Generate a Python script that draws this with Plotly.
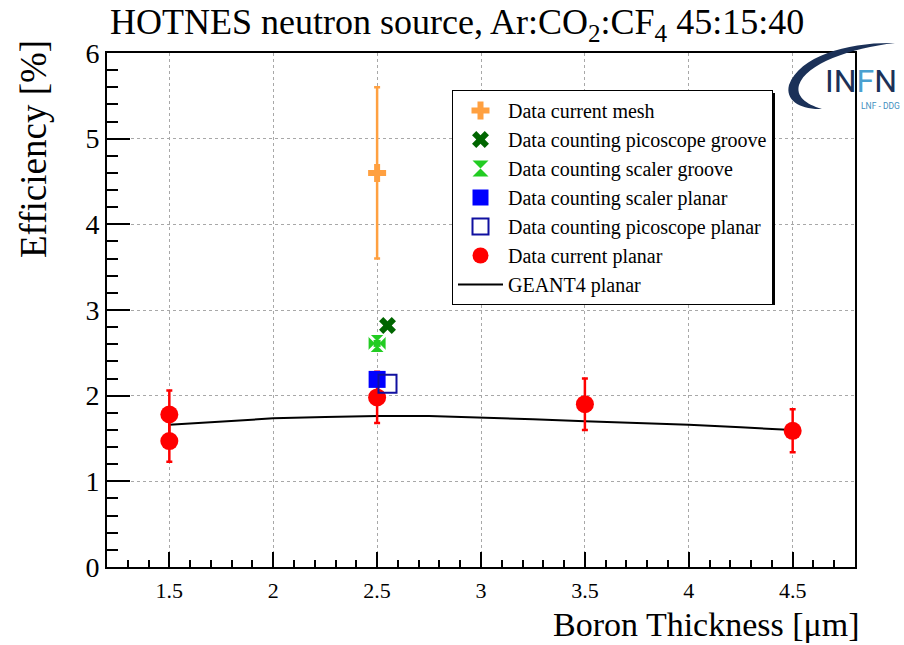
import plotly.graph_objects as go

# ---------------- data ----------------
geant4_x = [1.5, 1.75, 2.0, 2.25, 2.5, 2.75, 3.0, 3.25, 3.5, 3.75, 4.0, 4.25, 4.5]
geant4_y = [1.66, 1.70, 1.735, 1.752, 1.762, 1.762, 1.745, 1.725, 1.70, 1.68, 1.66, 1.63, 1.60]

current_planar_x = [1.5, 1.5, 2.5, 3.5, 4.5]
current_planar_y = [1.78, 1.47, 1.98, 1.90, 1.59]
current_planar_err = [0.28, 0.24, 0.30, 0.30, 0.25]

scaler_planar_x = [2.5]
scaler_planar_y = [2.19]

pico_planar_x = [2.55]
pico_planar_y = [2.14]

scaler_groove_x = [2.5]
scaler_groove_y = [2.61]

pico_groove_x = [2.55]
pico_groove_y = [2.82]

mesh_x = [2.5]
mesh_y = [4.6]
mesh_err = [1.0]

x_tick_vals = [1.5, 2, 2.5, 3, 3.5, 4, 4.5]
x_tick_text = ["1.5", "2", "2.5", "3", "3.5", "4", "4.5"]
y_tick_vals = [0, 1, 2, 3, 4, 5, 6]
y_tick_text = ["0", "1", "2", "3", "4", "5", "6"]

# ---------------- layout helpers ----------------
W, H = 904, 645
L, T, R, B = 107, 53, 855, 567
PW, PH = R - L, B - T


def px(xp):
    return (xp - L) / PW


def py(yp):
    return (B - yp) / PH


SERIF = "Liberation Serif, Times New Roman, serif"
GREEN = "#22cc22"

fig = go.Figure()

fig.add_trace(go.Scatter(
    x=geant4_x, y=geant4_y, mode="lines", name="GEANT4 planar",
    line=dict(color="black", width=2), legendrank=7))

fig.add_trace(go.Scatter(
    x=current_planar_x, y=current_planar_y, mode="markers", name="Data current planar",
    marker=dict(symbol="circle", size=18, color="#ff0000"),
    error_y=dict(type="data", array=current_planar_err, color="#ff0000", thickness=2.5, width=3),
    legendrank=6))

fig.add_trace(go.Scatter(
    x=scaler_planar_x, y=scaler_planar_y, mode="markers", name="Data counting scaler planar",
    marker=dict(symbol="square", size=17, color="#0000ff"), legendrank=4))

fig.add_trace(go.Scatter(
    x=pico_planar_x, y=pico_planar_y, mode="markers", name="Data counting picoscope planar",
    marker=dict(symbol="square-open", size=18, color="#1010a0", line=dict(width=2)),
    legendrank=5))

# scaler groove: four-petal marker built from overlaid symbols
fig.add_trace(go.Scatter(
    x=scaler_groove_x, y=scaler_groove_y, mode="markers", name="Data counting scaler groove",
    marker=dict(symbol="hourglass", size=17, color=GREEN), legendrank=3,
    legendgroup="sg"))
fig.add_trace(go.Scatter(
    x=scaler_groove_x, y=scaler_groove_y, mode="markers", showlegend=False,
    marker=dict(symbol="bowtie", size=17, color=GREEN), legendgroup="sg"))
fig.add_trace(go.Scatter(
    x=scaler_groove_x, y=scaler_groove_y, mode="markers", showlegend=False,
    marker=dict(symbol="x-thin-open", size=18, color="white", line=dict(width=3, color="white")),
    legendgroup="sg"))
fig.add_trace(go.Scatter(
    x=scaler_groove_x, y=scaler_groove_y, mode="markers", showlegend=False,
    marker=dict(symbol="square", size=7, color=GREEN), legendgroup="sg"))

fig.add_trace(go.Scatter(
    x=pico_groove_x, y=pico_groove_y, mode="markers", name="Data counting picoscope groove",
    marker=dict(symbol="x", size=15, color="#006600"), legendrank=2))

fig.add_trace(go.Scatter(
    x=mesh_x, y=mesh_y, mode="markers", name="Data current mesh",
    marker=dict(symbol="cross", size=15, color="#ffa040"),
    error_y=dict(type="data", array=mesh_err, color="#ffa040", thickness=2.5, width=3),
    legendrank=1))

axis_common = dict(
    showline=True, linecolor="black", linewidth=2, mirror=True,
    ticks="inside", tickcolor="black", tickwidth=2,
    showgrid=True, gridcolor="#a8a8a8", gridwidth=1, griddash="dot",
    zeroline=False, tickmode="array",
)

fig.update_xaxes(
    **axis_common, range=[1.2, 4.8], tickvals=x_tick_vals, ticktext=x_tick_text,
    ticklen=15, tickfont=dict(family=SERIF, size=22, color="black"),
    ticklabelstandoff=3,
    minor=dict(ticks="inside", ticklen=7, tickwidth=2, tickcolor="black",
               tickmode="linear", tick0=1.2, dtick=0.1, showgrid=False))
fig.update_yaxes(
    **axis_common, range=[0, 6], tickvals=y_tick_vals, ticktext=y_tick_text,
    ticklen=23, tickfont=dict(family=SERIF, size=28, color="black"),
    minor=dict(ticks="inside", ticklen=11, tickwidth=2, tickcolor="black",
               tickmode="linear", tick0=0, dtick=0.2, showgrid=False))

annotations = [
    dict(text="HOTNES neutron source, Ar:CO<sub>2</sub>:CF<sub>4</sub> 45:15:40",
         x=px(457), y=py(0), xref="paper", yref="paper", xanchor="center", yanchor="top",
         showarrow=False, font=dict(family=SERIF, size=36, color="black")),
    dict(text="Efficiency [%]", textangle=-90,
         x=px(33), y=py(38), xref="paper", yref="paper", xanchor="center", yanchor="top",
         showarrow=False, font=dict(family=SERIF, size=37, color="black")),
    dict(text="Boron Thickness [\u03bcm]",
         x=px(862), y=py(624), xref="paper", yref="paper", xanchor="right", yanchor="middle",
         showarrow=False, font=dict(family=SERIF, size=34, color="black")),
    dict(text='<span style="color:#1b3158">IN</span><span style="color:#4aa0d0">F</span>'
              '<span style="color:#1b3158">N</span>',
         x=px(861), y=py(81), xref="paper", yref="paper", xanchor="center", yanchor="middle",
         showarrow=False, font=dict(family="Roboto, sans-serif", size=32)),
    dict(text="LNF - DDG",
         x=px(880), y=py(106), xref="paper", yref="paper", xanchor="center", yanchor="middle",
         showarrow=False, font=dict(family="Roboto, sans-serif", size=8.5, color="#3f8fc0")),
]


def pt(xp, yp):
    return f"{px(xp):.5f},{py(yp):.5f}"


swoosh = ("M " + pt(895, 43)
          + " C " + pt(850, 42) + " " + pt(800, 55) + " " + pt(789, 85)
          + " C " + pt(785, 100) + " " + pt(800, 110) + " " + pt(822, 109)
          + " C " + pt(805, 104) + " " + pt(796, 96) + " " + pt(799, 85)
          + " C " + pt(806, 64) + " " + pt(850, 48) + " " + pt(895, 43) + " Z")

shapes = [
    dict(type="path", path=swoosh, xref="paper", yref="paper",
         fillcolor="#1b3158", line=dict(width=0), layer="above"),
    # legend shadow
    dict(type="rect", xref="paper", yref="paper",
         x0=px(455), x1=px(775), y0=py(305), y1=py(93),
         fillcolor="black", line=dict(width=0), layer="above"),
]

fig.update_layout(
    width=W, height=H, template="none",
    paper_bgcolor="white", plot_bgcolor="white",
    margin=dict(l=L, r=W - R, t=T, b=H - B, pad=0),
    showlegend=True,
    legend=dict(x=px(452), y=py(90), xanchor="left", yanchor="top",
                bgcolor="white", bordercolor="black", borderwidth=1,
                font=dict(family=SERIF, size=20, color="black"),
                itemwidth=45,
                traceorder="normal", tracegroupgap=0, itemsizing="trace"),
    annotations=annotations, shapes=shapes,
)

fig.write_html("out.html")
